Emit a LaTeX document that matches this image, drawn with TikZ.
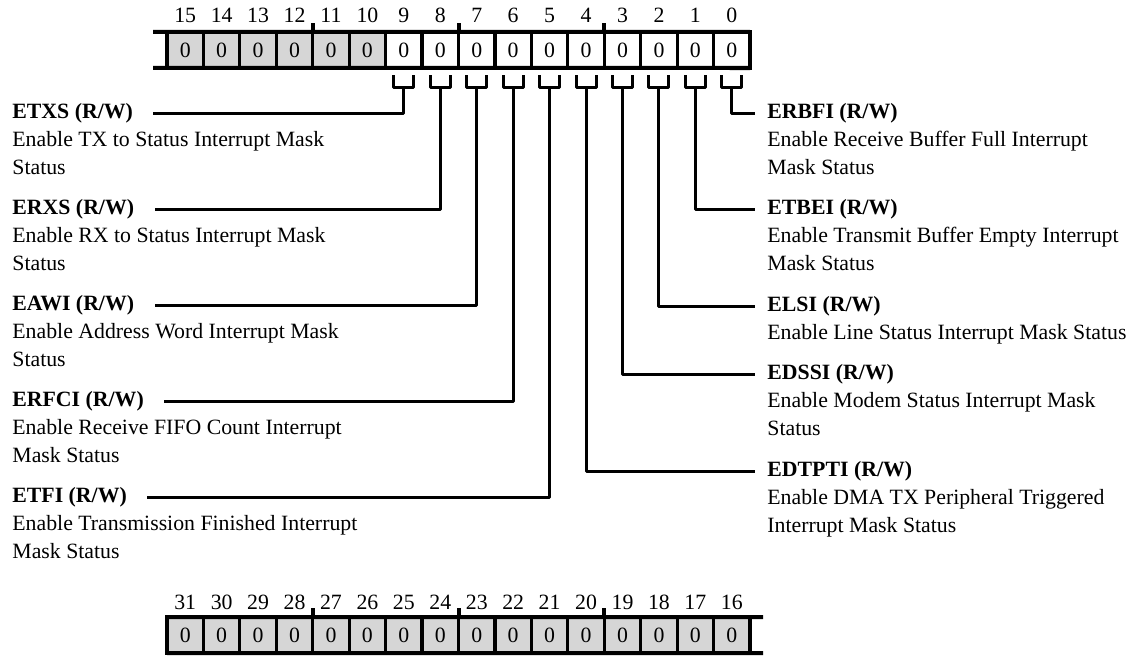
\documentclass[tikz,border=0pt]{standalone}
\usepackage{fontspec}
\setmainfont{Liberation Serif}
\usepackage{xcolor}
\usepackage{tikz}
\usetikzlibrary{positioning}
\definecolor{rsvgray}{RGB}{214,214,214}
\newcommand{\regfont}{\fontsize{10.9bp}{13.75bp}\selectfont}
\tikzset{
  bitcell/.style={rectangle, draw=black, line width=1.6bp, fill=white, outer sep=0pt,
    minimum width=18.22bp, minimum height=18bp, inner sep=0pt, font=\regfont},
  rsvcell/.style={bitcell, fill=rsvgray},
  bitnum/.style={inner sep=0pt, font=\regfont},
  regline/.style={line width=2bp},
  fname/.style={inner sep=0pt, anchor=west, text height=9.625bp, text depth=4.125bp,
    font=\regfont\bfseries},
  fdesc/.style={inner sep=0pt, align=left, anchor=north west, font=\regfont},
  brk/.style={line width=1.5bp, line join=round},
  connl/.style={line width=1.5bp, line join=round, shorten >=10bp},
  connr/.style={line width=1.5bp, line join=round, shorten >=6bp},
}

\begin{document}
\begin{tikzpicture}[x=0.5bp, y=-0.5bp]
  \useasboundingbox (0,0) rectangle (1131,656);
  % register, bits 15..0
  \foreach \n in {10,...,15} {
    \pgfmathsetmacro{\cx}{167+(15-\n+0.5)*36.44}
    \node[rsvcell] (t\n) at (\cx,50) {0};
    \node[bitnum] (tn\n) at (\cx,15) {\n};
  }
  \foreach \n in {0,...,9} {
    \pgfmathsetmacro{\cx}{167+(15-\n+0.5)*36.44}
    \node[bitcell] (t\n) at (\cx,50) {0};
    \node[bitnum] (tn\n) at (\cx,15) {\n};
  }
  \coordinate (tlt) at (153,32);
  \coordinate (tlb) at (153,68);
  \draw[regline] (tlt) -- (t0.north east);
  \draw[regline] (tlb) -- (t0.south east);
  \foreach \n in {11,7,3}
    \draw[regline] (t\n.north west) -- ++(0,-9);
  % brackets under bits 9..0
  \foreach \n in {0,...,9} {
    \coordinate (k\n) at ([yshift=-9.5bp]t\n.south);
    \draw[brk] (k\n) ++(-10,-12) -- ++(0,12) -- ++(20,0) -- ++(0,-12);
  }

  % left fields
  \node[fname] (etxs) at (12,113) {ETXS (R/W)};
  \node[fdesc] (etxsdesc) at (etxs.south west) {\strut Enable TX to Status Interrupt Mask\\Status};
  \node[fname] (erxs) at (12,209) {ERXS (R/W)};
  \node[fdesc] (erxsdesc) at (erxs.south west) {\strut Enable RX to Status Interrupt Mask\\Status};
  \node[fname] (eawi) at (12,305) {EAWI (R/W)};
  \node[fdesc] (eawidesc) at (eawi.south west) {\strut Enable Address Word Interrupt Mask\\Status};
  \node[fname] (erfci) at (12,401) {ERFCI (R/W)};
  \node[fdesc] (erfcidesc) at (erfci.south west) {\strut Enable Receive FIFO Count Interrupt\\Mask Status};
  \node[fname] (etfi) at (12,497) {ETFI (R/W)};
  \node[fdesc] (etfidesc) at (etfi.south west) {\strut Enable Transmission Finished Interrupt\\Mask Status};
  \draw[connl] (k9) |- (etxs.east);
  \draw[connl] (k8) |- (erxs.east);
  \draw[connl] (k7) |- (eawi.east);
  \draw[connl] (k6) |- (erfci.east);
  \draw[connl] (k5) |- (etfi.east);

  % right fields
  \node[fname] (erbfi) at (767,113) {ERBFI (R/W)};
  \node[fdesc] (erbfidesc) at (erbfi.south west) {\strut Enable Receive Buffer Full Interrupt\\Mask Status};
  \node[fname] (etbei) at (767,209) {ETBEI (R/W)};
  \node[fdesc] (etbeidesc) at (etbei.south west) {\strut Enable Transmit Buffer Empty Interrupt\\Mask Status};
  \node[fname] (elsi) at (767,306) {ELSI (R/W)};
  \node[fdesc] (elsidesc) at (elsi.south west) {\strut Enable Line Status Interrupt Mask Status};
  \node[fname] (edssi) at (767,374) {EDSSI (R/W)};
  \node[fdesc] (edssidesc) at (edssi.south west) {\strut Enable Modem Status Interrupt Mask\\Status};
  \node[fname] (edtpti) at (767,471) {EDTPTI (R/W)};
  \node[fdesc] (edtptidesc) at (edtpti.south west) {\strut Enable DMA TX Peripheral Triggered\\Interrupt Mask Status};
  \draw[connr] (k0) |- (erbfi.west);
  \draw[connr] (k1) |- (etbei.west);
  \draw[connr] (k2) |- (elsi.west);
  \draw[connr] (k3) |- (edssi.west);
  \draw[connr] (k4) |- (edtpti.west);

  % register, bits 31..16
  \foreach \n in {16,...,31} {
    \pgfmathsetmacro{\cx}{167+(31-\n+0.5)*36.44}
    \node[rsvcell] (u\n) at (\cx,635) {0};
    \node[bitnum] (un\n) at (\cx,602) {\n};
  }
  \coordinate (urt) at (763,617);
  \coordinate (urb) at (763,653);
  \draw[regline] (u31.north west) -- (urt);
  \draw[regline] (u31.south west) -- (urb);
  \foreach \n in {27,23,19}
    \draw[regline] (u\n.north west) -- ++(0,-9);
\end{tikzpicture}
\end{document}
